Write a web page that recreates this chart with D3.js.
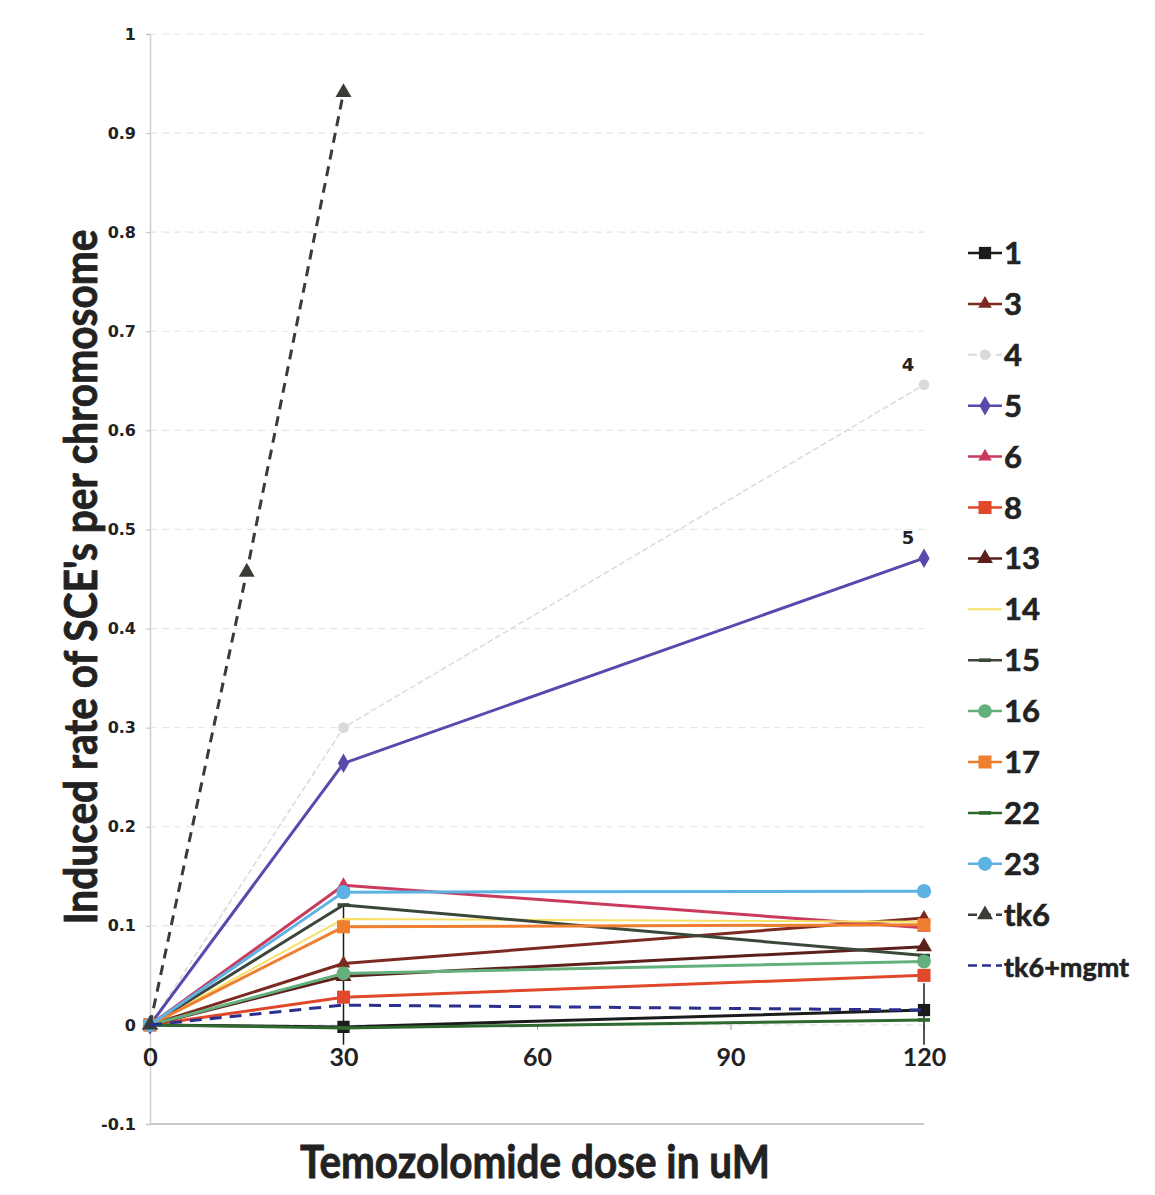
<!DOCTYPE html>
<html>
<head>
<meta charset="utf-8">
<script src="https://cdn.jsdelivr.net/npm/d3@7"></script>
<style>
  body { margin: 0; background: #fff; }
  svg { display: block; }
</style>
</head>
<body>
<div id="chart"></div>
<script>
// doses (uM)
var doses = [0, 30, 120];
var tk6Doses = [0, 15, 30];

// induced SCE rate per chromosome, one array per series
var chr1 = [0, -0.002, 0.015];
var chr3 = [0, 0.062, 0.108];
var chr4 = [0, 0.300, 0.646];
var chr5 = [0, 0.264, 0.471];
var chr6 = [0, 0.141, 0.098];
var chr8 = [0, 0.028, 0.050];
var chr13 = [0, 0.049, 0.079];
var chr14 = [0, 0.107, 0.104];
var chr15 = [0, 0.121, 0.070];
var chr16 = [0, 0.052, 0.064];
var chr17 = [0, 0.099, 0.101];
var chr22 = [0, -0.003, 0.005];
var chr23 = [0, 0.134, 0.135];
var tk6 = [0, 0.457, 0.941];
var tk6mgmt = [0, 0.020, 0.015];

// error bar (series 1) low / high at each dose
var errLow = [0, -0.020, -0.020];
var errHigh = [0, 0.120, 0.042];

var seriesNames = ["1", "3", "4", "5", "6", "8", "13", "14", "15", "16", "17", "22", "23", "tk6", "tk6+mgmt"];
var seriesValues = [chr1, chr3, chr4, chr5, chr6, chr8, chr13, chr14, chr15, chr16, chr17, chr22, chr23, tk6, tk6mgmt];

var yTicks = [-0.1, 0, 0.1, 0.2, 0.3, 0.4, 0.5, 0.6, 0.7, 0.8, 0.9, 1];
var xTicks = [0, 30, 60, 90, 120];

// look of each series
var styles = {
    "1":        {color: "#1b1b1b", width: 3,   marker: "square",   size: 150},
    "3":        {color: "#7b2a22", width: 3,   marker: "triangle", size: 80},
    "4":        {color: "#dadada", width: 1.5, marker: "circle",   size: 90, dash: "6,3"},
    "5":        {color: "#5a48ad", width: 3,   marker: "diamond",  size: 110},
    "6":        {color: "#c93a5c", width: 3,   marker: "triangle", size: 80},
    "8":        {color: "#e1472b", width: 3,   marker: "square",   size: 170},
    "13":       {color: "#5b1f1c", width: 3,   marker: "triangle", size: 110},
    "14":       {color: "#f7e066", width: 2,   marker: "none",     size: 0},
    "15":       {color: "#3b473b", width: 3,   marker: "dash",     size: 0},
    "16":       {color: "#63b07c", width: 3,   marker: "circle",   size: 150},
    "17":       {color: "#ef7f2f", width: 3,   marker: "square",   size: 170},
    "22":       {color: "#2e6a2e", width: 3,   marker: "dash",     size: 0},
    "23":       {color: "#5cb3e3", width: 3,   marker: "circle",   size: 160},
    "tk6":      {color: "#3a3c38", width: 3,   marker: "triangle", size: 110, dash: "10,7"},
    "tk6+mgmt": {color: "#2b2f8e", width: 3,   marker: "none",     size: 0,   dash: "12,8"}
};

var width = 1155;
var height = 1195;

var svg = d3.select("#chart").append("svg")
    .attr("width", width)
    .attr("height", height);

var x = d3.scaleLinear().domain([0, 120]).range([150, 924]);
var y = d3.scaleLinear().domain([-0.1, 1]).range([1124, 34]);

// grid lines
svg.append("g").selectAll("line")
    .data(yTicks).enter()
    .append("line")
    .attr("x1", x(0))
    .attr("x2", x(120))
    .attr("y1", function(d) { return y(d); })
    .attr("y2", function(d) { return y(d); })
    .style("stroke", function(d) { return d === -0.1 ? "#c9c9c9" : "#e6e6e6"; })
    .style("stroke-width", function(d) { return d === -0.1 ? 2 : 1.2; })
    .style("stroke-dasharray", function(d) { return d === -0.1 ? null : "7,5"; });

// y axis
var yAxis = d3.axisLeft(y)
    .tickValues(yTicks)
    .tickSize(4)
    .tickPadding(10)
    .tickFormat(function(d) { return String(+d.toFixed(1)); });
var gy = svg.append("g")
    .attr("transform", "translate(" + x(0) + ",0)")
    .call(yAxis);
gy.select(".domain").style("stroke", "#cfcfcf").style("stroke-width", 1.5);
gy.selectAll(".tick line").style("stroke", "#bdbdbd");
gy.selectAll("text")
    .style("font-family", "'DejaVu Sans', sans-serif")
    .style("font-weight", "bold")
    .style("font-size", "16px")
    .style("fill", "#222");

// x axis (ticks at y = 0)
var xAxis = d3.axisBottom(x)
    .tickValues(xTicks)
    .tickSize(5)
    .tickPadding(18)
    .tickFormat(d3.format("d"));
var gx = svg.append("g")
    .attr("transform", "translate(0," + y(0) + ")")
    .call(xAxis);
gx.select(".domain").remove();
gx.selectAll(".tick line").style("stroke", "#9a9a9a");
gx.selectAll("text")
    .style("font-family", "Lato, sans-serif")
    .style("font-weight", "bold")
    .style("font-size", "25px")
    .style("fill", "#222");

// error bars
var errIdx = [1, 2];
svg.append("g").selectAll("line")
    .data(errIdx).enter()
    .append("line")
    .attr("x1", function(i) { return x(doses[i]); })
    .attr("x2", function(i) { return x(doses[i]); })
    .attr("y1", function(i) { return y(errLow[i]); })
    .attr("y2", function(i) { return y(errHigh[i]); })
    .style("stroke", "#1b1b1b")
    .style("stroke-width", 1.5);

function markerPath(type, size) {
    if (type === "square") return d3.symbol().type(d3.symbolSquare).size(size)();
    if (type === "triangle") return d3.symbol().type(d3.symbolTriangle).size(size)();
    if (type === "diamond") return d3.symbol().type(d3.symbolDiamond).size(size)();
    if (type === "circle") return d3.symbol().type(d3.symbolCircle).size(size)();
    if (type === "dash") return "M-6,-1.8L6,-1.8L6,1.8L-6,1.8Z";
    return null;
}

var line = d3.line()
    .x(function(d) { return x(d.dose); })
    .y(function(d) { return y(d.value); });

// series
seriesNames.forEach(function(name, k) {
    var st = styles[name];
    var xs = name === "tk6" ? tk6Doses : doses;
    var pts = seriesValues[k].map(function(v, i) { return {dose: xs[i], value: v}; });
    var g = svg.append("g").attr("class", "series");
    g.append("path")
        .attr("d", line(pts))
        .style("fill", "none")
        .style("stroke", st.color)
        .style("stroke-width", st.width)
        .style("stroke-dasharray", st.dash || null)
        .style("stroke-linejoin", "round");
    if (st.marker !== "none") {
        g.selectAll(".pt")
            .data(pts).enter()
            .append("path")
            .attr("class", "pt")
            .attr("transform", function(d) { return "translate(" + x(d.dose) + "," + y(d.value) + ")"; })
            .attr("d", markerPath(st.marker, st.size))
            .style("fill", st.color);
    }
});

// point labels for 4 and 5
var notes = [{name: "4", k: 2}, {name: "5", k: 3}];
svg.append("g").selectAll("text")
    .data(notes).enter()
    .append("text")
    .attr("x", function(d) { return x(doses[2]) - 16; })
    .attr("y", function(d) { return y(seriesValues[d.k][2]) - 14; })
    .attr("text-anchor", "middle")
    .style("font-family", "'DejaVu Sans', sans-serif")
    .style("font-weight", "bold")
    .style("font-size", "18px")
    .style("fill", "#222")
    .text(function(d) { return d.name; });

// legend
var legend = svg.append("g").selectAll("g")
    .data(seriesNames).enter()
    .append("g")
    .attr("transform", function(d, i) {
        return "translate(968," + (253 + i * 50.9) + ")";
    });
legend.append("line")
    .attr("x1", 0)
    .attr("x2", 34)
    .style("stroke", function(d) { return styles[d].color; })
    .style("stroke-width", function(d) { return Math.max(2, styles[d].width - 0.5); })
    .style("stroke-dasharray", function(d) { return styles[d].dash ? "9,5" : null; });
legend.filter(function(d) { return styles[d].marker !== "none"; })
    .append("path")
    .attr("transform", "translate(17,0)")
    .attr("d", function(d) { return markerPath(styles[d].marker, styles[d].size); })
    .style("fill", function(d) { return styles[d].color; });
legend.append("text")
    .attr("x", 36)
    .attr("y", 11)
    .style("font-family", "Lato, sans-serif")
    .style("font-weight", "bold")
    .style("font-size", function(d) { return d.length > 3 ? "27px" : "31px"; })
    .style("fill", "#222")
    .style("stroke", "#222")
    .style("stroke-width", 0.6)
    .text(function(d) { return d; });

// axis titles
svg.append("text")
    .attr("transform", "translate(97,577) rotate(-90)")
    .attr("text-anchor", "middle")
    .attr("textLength", 695)
    .attr("lengthAdjust", "spacingAndGlyphs")
    .style("font-family", "Lato, sans-serif")
    .style("font-weight", "bold")
    .style("font-size", "45px")
    .style("fill", "#222")
    .style("stroke", "#222")
    .style("stroke-width", 0.8)
    .text("Induced rate of SCE's per chromosome");

svg.append("text")
    .attr("x", 535)
    .attr("y", 1178)
    .attr("text-anchor", "middle")
    .attr("textLength", 470)
    .attr("lengthAdjust", "spacingAndGlyphs")
    .style("font-family", "Lato, sans-serif")
    .style("font-weight", "bold")
    .style("font-size", "45px")
    .style("fill", "#222")
    .style("stroke", "#222")
    .style("stroke-width", 0.8)
    .text("Temozolomide dose in uM");
</script>
</body>
</html>
